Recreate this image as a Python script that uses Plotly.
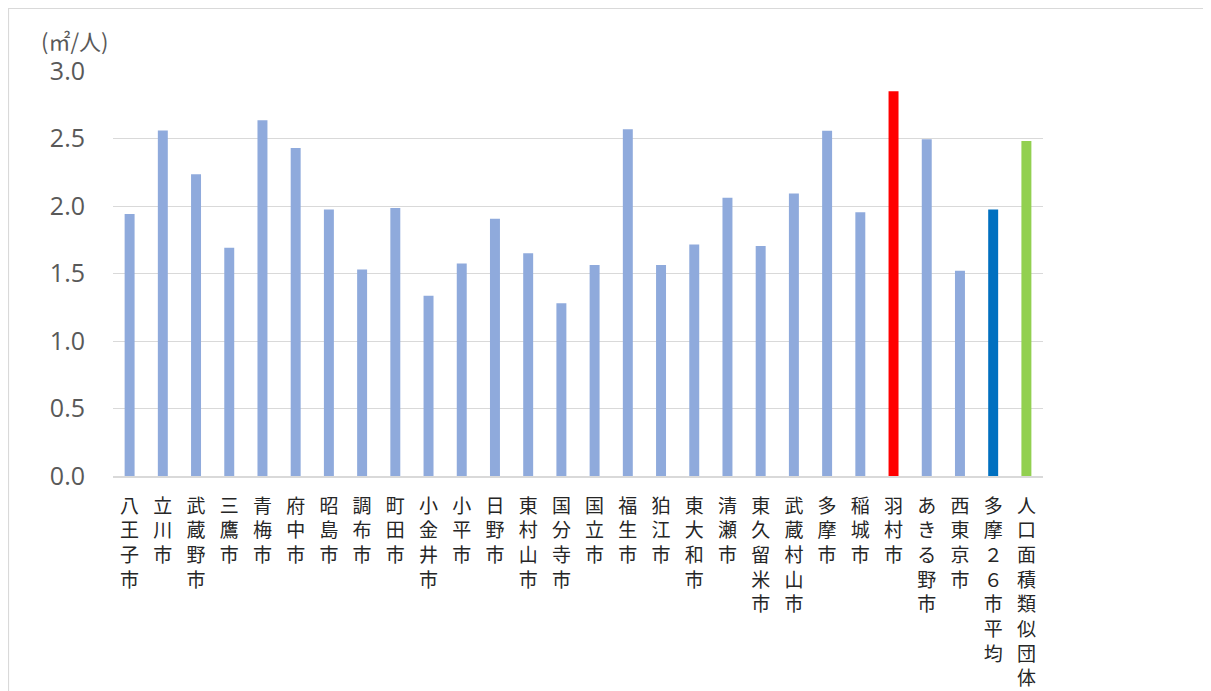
import plotly.graph_objects as go

categories = ["八王子市", "立川市", "武蔵野市", "三鷹市", "青梅市", "府中市", "昭島市", "調布市",
              "町田市", "小金井市", "小平市", "日野市", "東村山市", "国分寺市", "国立市", "福生市",
              "狛江市", "東大和市", "清瀬市", "東久留米市", "武蔵村山市", "多摩市", "稲城市", "羽村市",
              "あきる野市", "西東京市", "多摩２６市平均", "人口面積類似団体"]
values = [1.94, 2.56, 2.235, 1.69, 2.635, 2.43, 1.975, 1.53,
          1.985, 1.335, 1.575, 1.905, 1.65, 1.28, 1.563, 2.568,
          1.563, 1.715, 2.062, 1.703, 2.093, 2.558, 1.953, 2.85,
          2.494, 1.52, 1.975, 2.481]
y_ticks = [0.0, 0.5, 1.0, 1.5, 2.0, 2.5, 3.0]
unit_label = "(㎡/人)"

BASE = "#8FAADC"
special = {"羽村市": "#FF0000", "多摩２６市平均": "#0070C0", "人口面積類似団体": "#92D050"}
colors = [special.get(c, BASE) for c in categories]
tick_text = ["<br>".join(list(c)) for c in categories]

# page body has an 8px margin, so figure coordinates are offset by 8px
W, H = 1203, 683
L, R, T, B = 105, 1035, 63, 468

fig = go.Figure(go.Bar(
    x=categories, y=values, marker=dict(color=colors, line=dict(width=0)),
    hoverinfo="x+y",
))

fig.update_layout(
    width=W, height=H,
    margin=dict(l=L, r=W - R, t=T, b=H - B, autoexpand=False),
    paper_bgcolor="white", plot_bgcolor="white",
    bargap=0.7,
    showlegend=False,
    font=dict(family="Noto Sans CJK JP, sans-serif"),
    xaxis=dict(
        tickmode="array", tickvals=categories, ticktext=tick_text,
        tickangle=0, ticks="", showgrid=False, showline=True,
        linecolor="#D9D9D9", linewidth=1.5,
        tickfont=dict(size=19, color="#262626", family="Noto Sans CJK JP"),
        ticklabelstandoff=12,
    ),
    yaxis=dict(
        range=[0, 3.0], tickmode="array", tickvals=y_ticks,
        ticktext=[f"{v:.1f}" for v in y_ticks],
        showgrid=True, gridcolor="#D9D9D9", gridwidth=1.3,
        zeroline=False, showline=False, ticks="",
        tickfont=dict(size=25, color="#595959", family="Open Sans"),
        ticklabelstandoff=27,
    ),
    annotations=[dict(
        text=unit_label, xref="paper", yref="paper",
        x=(31 - L) / (R - L), y=(B - 32) / (B - T),
        xanchor="left", yanchor="middle", showarrow=False,
        font=dict(size=22, color="#595959", family="Noto Sans CJK JP"),
    )],
    shapes=[dict(
        type="rect", xref="paper", yref="paper",
        x0=(0.5 - L) / (R - L), x1=(1201 - L) / (R - L),
        y0=(B - 700) / (B - T), y1=(B + 3) / (B - T) if False else (B - 0.5) / (B - T),
        line=dict(color="#D9D9D9", width=1.2), fillcolor="rgba(0,0,0,0)",
        layer="below",
    )],
)

fig.write_html("out.html")
